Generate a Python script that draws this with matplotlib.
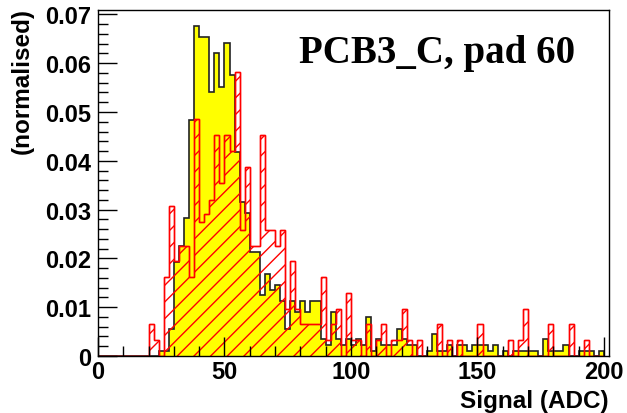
import numpy as np
import matplotlib
matplotlib.use("Agg")
import matplotlib.pyplot as plt
from matplotlib.ticker import MultipleLocator, FuncFormatter

# ---- data (normalised bin contents, bins of width 2 ADC from 0 to 200) ----
bin_edges = np.arange(0, 202, 2)

yellow_vals = [
    0, 0, 0, 0, 0, 0, 0, 0, 0, 0,
    0, 0, 0.0011, 0.0011, 0.0056, 0.0192, 0.0225, 0.0282, 0.0484, 0.0676,
    0.0653, 0.0653, 0.0541, 0.0620, 0.0552, 0.0642, 0.0575, 0.0417, 0.0316, 0.0293,
    0.0214, 0.0214, 0.0124, 0.0169, 0.0135, 0.0146, 0.0113, 0.0056, 0.0113, 0.0090,
    0.0113, 0.0090, 0.0113, 0.0113, 0.0034, 0.0023, 0.0090, 0.0034, 0.0023, 0.0034,
    0.0023, 0.0034, 0.0023, 0.0079, 0.0011, 0.0034, 0.0023, 0.0023, 0.0023, 0.0056,
    0.0034, 0.0023, 0.0023, 0, 0, 0.0011, 0.0045, 0.0011, 0.0011, 0.0023,
    0, 0.0023, 0.0023, 0.0011, 0.0023, 0.0023, 0.0023, 0.0011, 0.0023, 0,
    0.0011, 0, 0.0011, 0.0011, 0.0011, 0.0011, 0.0011, 0, 0.0034, 0.0011,
    0.0011, 0.0011, 0.0023, 0, 0, 0.0011, 0.0011, 0.0011, 0, 0.0011,
]

red_vals = [
    0, 0, 0, 0, 0, 0, 0, 0, 0, 0,
    0.0065, 0.0032, 0, 0.0161, 0.0307, 0.0194, 0.0226, 0.0226, 0.0161, 0.0485,
    0.0275, 0.0290, 0.0320, 0.0452, 0.0355, 0.0452, 0.0420, 0.0581, 0.0258, 0.0387,
    0.0226, 0.0226, 0.0452, 0.0258, 0.0258, 0.0226, 0.0258, 0.0097, 0.0194, 0.0097,
    0.0065, 0.0065, 0.0065, 0.0065, 0.0161, 0.0032, 0.0065, 0.0097, 0, 0.0129,
    0.0032, 0.0032, 0, 0.0065, 0, 0.0032, 0.0065, 0, 0.0032, 0.0032,
    0.0097, 0.0032, 0, 0.0032, 0, 0, 0, 0.0065, 0, 0.0032,
    0, 0.0032, 0, 0, 0, 0.0065, 0, 0, 0, 0,
    0, 0.0032, 0, 0.0032, 0.0097, 0, 0, 0, 0, 0.0065,
    0, 0, 0, 0.0065, 0, 0, 0.0032, 0, 0, 0,
]

title_text = "PCB3_C, pad 60"
x_label = "Signal (ADC)"
y_label = "(normalised)"

# ---- figure ----
plt.rcParams['hatch.linewidth'] = 1.0
fig = plt.figure(figsize=(6.27, 4.14), dpi=100)
ax = fig.add_axes([98/627, 57/414, 511/627, 346/414])

ax.stairs(yellow_vals, bin_edges, fill=True, facecolor="#ffff00", edgecolor="none", baseline=0)
ax.stairs(yellow_vals, bin_edges, fill=False, color="#222222", linewidth=1.2, baseline=0)
ax.stairs(red_vals, bin_edges, fill=True, facecolor="none", edgecolor="#ff0000",
          hatch="//", linewidth=1.0, baseline=0)
ax.stairs(red_vals, bin_edges, fill=False, color="#ff0000", linewidth=1.0, baseline=0)

ax.set_xlim(0, 202)
ax.set_ylim(0, 0.0709)

ax.xaxis.set_major_locator(MultipleLocator(50))
ax.xaxis.set_minor_locator(MultipleLocator(10))
ax.yaxis.set_major_locator(MultipleLocator(0.01))
ax.yaxis.set_minor_locator(MultipleLocator(0.002))
fmt = FuncFormatter(lambda v, p: "0" if abs(v) < 1e-12 else f"{v:g}")
ax.xaxis.set_major_formatter(fmt)
ax.yaxis.set_major_formatter(fmt)

lab_font = dict(family="Liberation Sans", weight="bold", size=17.5)
ax.tick_params(axis="both", which="both", direction="in", top=False, right=False, width=1, color="black")
ax.tick_params(axis="both", which="major", length=14)
ax.tick_params(axis="both", which="minor", length=7)
ax.tick_params(axis="y", which="major", pad=5)
ax.tick_params(axis="x", which="major", pad=3)
for lbl in ax.get_xticklabels() + ax.get_yticklabels():
    lbl.set_fontfamily("Liberation Sans")
    lbl.set_fontweight("bold")
    lbl.set_fontsize(17)

for s in ax.spines.values():
    s.set_linewidth(1.0)
    s.set_color("black")

ax.text(1.0, -0.095, x_label, transform=ax.transAxes, ha="right", va="top", **lab_font)
fig.text(22/627, 1 - 8/414, y_label, rotation=90, ha="center", va="top", **lab_font)

ax.text(134, 0.0622, title_text, ha="center", va="center",
        family="Liberation Serif", weight="bold", size=28)

fig.savefig("out.png", dpi=100)
